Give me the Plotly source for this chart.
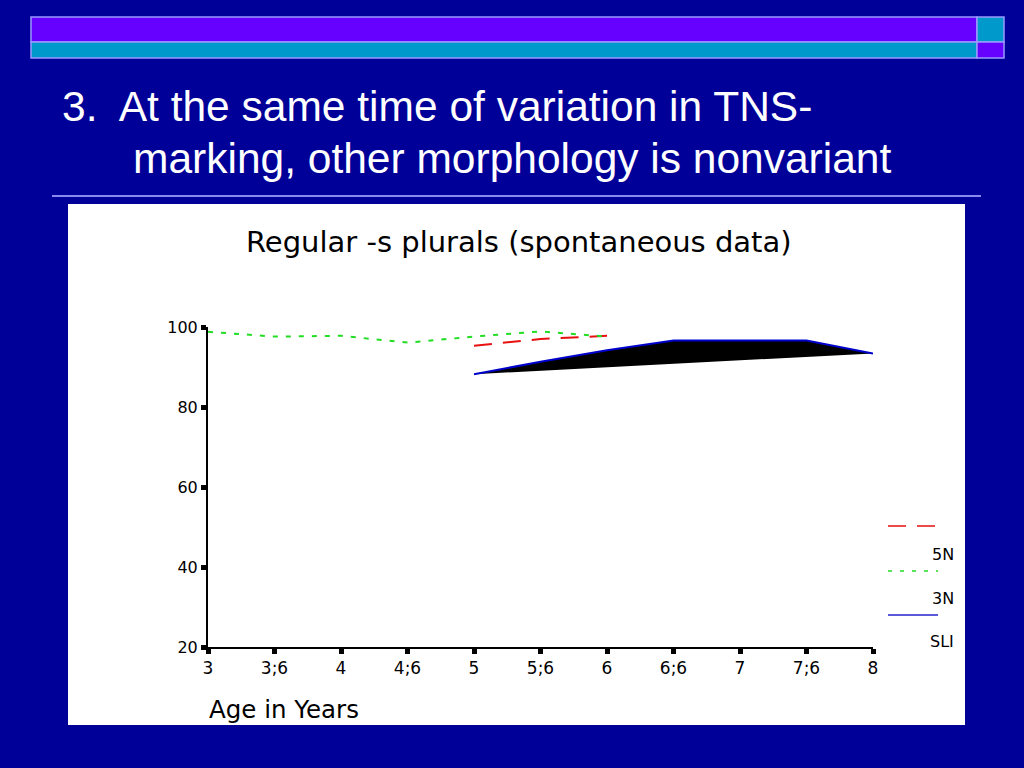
import plotly.graph_objects as go

# ---- data ----
ages = [3, 3.5, 4, 4.5, 5, 5.5, 6, 6.5, 7, 7.5, 8]
age_labels = ["3", "3;6", "4", "4;6", "5", "5;6", "6", "6;6", "7", "7;6", "8"]
y_ticks = [20, 40, 60, 80, 100]

x_5n = [5, 5.5, 6]
y_5n = [95.3, 97.0, 97.8]

x_3n = [3, 3.5, 4, 4.5, 5, 5.5, 6]
y_3n = [98.8, 97.6, 97.8, 96.1, 97.6, 98.9, 97.6]

x_sli = [5, 5.5, 6, 6.5, 7, 7.5, 8]
y_sli = [88.2, 91.3, 94.2, 96.6, 96.6, 96.6, 93.4]

series_names = ["5N", "3N", "SLI"]

# ---- layout geometry (pixels) ----
W, H = 1024, 768
L, R, T, B = 208, 873, 327, 647


def px(x):
    return (x - L) / (R - L)


def py(y):
    return (B - y) / (B - T)


BG = "#000099"
PURPLE = "#6600ff"
CYAN = "#0099cc"
BORDER = "#9999ff"

fig = go.Figure()

fig.add_trace(go.Scatter(
    x=x_sli, y=y_sli, mode="lines", fill="toself", fillcolor="black",
    line=dict(color="#0000cc", width=2), name=series_names[2], showlegend=False))
fig.add_trace(go.Scatter(
    x=x_5n, y=y_5n, mode="lines",
    line=dict(color="#e81010", width=2, dash="18px,11px"), name=series_names[0], showlegend=False))
fig.add_trace(go.Scatter(
    x=x_3n, y=y_3n, mode="lines",
    line=dict(color="#22dd22", width=2, dash="5px,8px"), name=series_names[1], showlegend=False))

shapes = []


def rect(x0, y0, x1, y1, fill, line=BORDER, lw=1.5, layer="below"):
    shapes.append(dict(type="rect", xref="paper", yref="paper",
                       x0=px(x0), x1=px(x1), y0=py(y1), y1=py(y0),
                       fillcolor=fill, line=dict(color=line, width=lw), layer=layer))


# header bars
rect(31, 17, 977, 42, PURPLE)
rect(31, 42, 977, 58, CYAN)
rect(977, 17, 1004, 42, CYAN)
rect(977, 42, 1004, 58, PURPLE)
# separator
shapes.append(dict(type="line", xref="paper", yref="paper",
                   x0=px(52), x1=px(981), y0=py(196), y1=py(196),
                   line=dict(color="#8888ee", width=2), layer="below"))
# white chart box
rect(68, 204, 965, 725, "white", line="white", lw=0)

# legend samples
leg_styles = [("#e81010", "18px,11px", 526), ("#22dd22", "4px,8px", 571), ("#2222cc", "solid", 615)]
for color, dash, yy in leg_styles:
    shapes.append(dict(type="line", xref="paper", yref="paper",
                       x0=px(888), x1=px(938), y0=py(yy), y1=py(yy),
                       line=dict(color=color, width=1.5, dash=dash)))

annotations = []
chart_font = "DejaVu Sans"
title_font = "Liberation Sans, Arial"

annotations.append(dict(text="3.\u00a0 At the same time of variation in TNS-",
                        xref="paper", yref="paper", x=px(60), y=py(106),
                        xanchor="left", yanchor="middle", showarrow=False,
                        font=dict(family=title_font, size=42.5, color="white")))
annotations.append(dict(text="marking, other morphology is nonvariant",
                        xref="paper", yref="paper", x=px(131), y=py(158),
                        xanchor="left", yanchor="middle", showarrow=False,
                        font=dict(family=title_font, size=42.5, color="white")))
annotations.append(dict(text="Regular -s plurals (spontaneous data)",
                        xref="paper", yref="paper", x=px(519), y=py(242),
                        xanchor="center", yanchor="middle", showarrow=False,
                        font=dict(family=chart_font, size=29, color="black")))
annotations.append(dict(text="Age in Years",
                        xref="paper", yref="paper", x=px(207), y=py(709),
                        xanchor="left", yanchor="middle", showarrow=False,
                        font=dict(family=chart_font, size=24.5, color="black")))
for name, yy in zip(series_names, [554, 598, 641]):
    annotations.append(dict(text=name, xref="paper", yref="paper",
                            x=px(956), y=py(yy), xanchor="right", yanchor="middle",
                            showarrow=False,
                            font=dict(family=chart_font, size=16, color="black")))

fig.update_layout(
    width=W, height=H,
    margin=dict(l=L, r=W - R, t=T, b=H - B, pad=0),
    paper_bgcolor=BG, plot_bgcolor="white",
    showlegend=False,
    shapes=shapes, annotations=annotations,
    xaxis=dict(range=[3, 8], tickvals=ages, ticktext=age_labels,
               showgrid=False, zeroline=False, showline=True,
               linecolor="black", linewidth=2, ticks="outside",
               ticklen=5, tickwidth=5, tickcolor="black",
               tickfont=dict(family=chart_font, size=17, color="black")),
    yaxis=dict(range=[20, 100], tickvals=y_ticks,
               showgrid=False, zeroline=False, showline=True,
               linecolor="black", linewidth=2, ticks="outside",
               ticklen=5, tickwidth=5, tickcolor="black",
               tickfont=dict(family=chart_font, size=16, color="black")),
)

fig.write_html("out.html",
               config={"displayModeBar": False},
               post_script="document.body.style.margin='0';document.body.style.background='#000099';")
